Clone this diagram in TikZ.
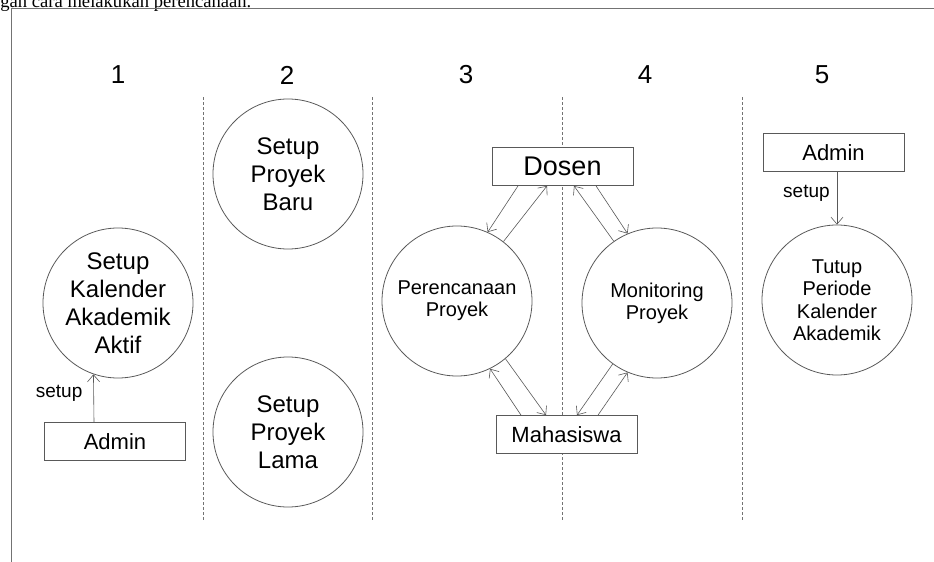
\documentclass[tikz,border=0pt]{standalone}
\usepackage{fontspec}
\setmainfont{Liberation Sans}
\newfontfamily\timesfont{Liberation Serif}
\usetikzlibrary{arrows.meta}

\begin{document}
\begin{tikzpicture}[x=1pt, y=-1pt, line width=0.8pt,
    proses/.style={draw=black!65, circle, minimum size=150pt, inner sep=0pt, align=center, text=black},
    entitas/.style={draw=black!65, fill=white, minimum width=141pt, minimum height=38pt, inner sep=0pt, text=black, font=\fontsize{22}{26}\selectfont},
    alir/.style={draw=black!65, line width=0.6pt, -{Straight Barb[length=7pt,width=12pt]}},
    batas/.style={draw=black!55, line width=0.6pt, dash pattern=on 3pt off 2pt},
    ket/.style={inner sep=1pt, text=black, font=\fontsize{19}{22}\selectfont}]
    \useasboundingbox (0,0) rectangle (934,562);
    \begin{scope}
    \clip (0,0) rectangle (934,562);
    \node[anchor=base west, inner sep=0pt, font=\timesfont\fontsize{18.6}{22}\selectfont] (teks) at (0,7.5) {gan cara melakukan perencanaan.};
    \end{scope}
    \draw[black!55] (934,8) -- (11,8) -- (11,562);

    % garis pemisah kolom
    \foreach \x in {203,372,562,742}
    {
    \draw[batas] (\x,97) -- (\x,520);
    }
    \foreach \x/\n in {118/1,287/2,466/3,645/4,822/5}
    {
    \node[text=black, font=\fontsize{26}{30}\selectfont] (no\n) at (\x,75) {\n};
    }

    % proses
    \node[proses, font=\fontsize{24}{28}\selectfont] (kalender) at (118,303) {Setup\\Kalender\\Akademik\\Aktif};
    \node[proses, font=\fontsize{24}{28}\selectfont] (baru) at (288,174) {Setup\\Proyek\\Baru};
    \node[proses, font=\fontsize{24}{28}\selectfont] (lama) at (288,432) {Setup\\Proyek\\Lama};
    \node[proses, font=\fontsize{20}{22}\selectfont] (perencanaan) at (457,301) {Perencanaan\\Proyek};
    \node[proses, font=\fontsize{20}{22}\selectfont] (monitoring) at (657,303) {Monitoring\\Proyek};
    \node[proses, font=\fontsize{20}{22.5}\selectfont] (tutup) at (837,300) {Tutup\\Periode\\Kalender\\Akademik};

    % entitas
    \node[entitas, font=\fontsize{27}{32}\selectfont] (dosen) at (562.5,166.5) {Dosen};
    \node[entitas] (mahasiswa) at (566.5,434.5) {Mahasiswa};
    \node[entitas] (admina) at (115,441.5) {Admin};
    \node[entitas] (adminb) at (833.5,152.5) {Admin};

    % aliran
    \draw[alir] ([xshift=-21pt]admina.north) -- node[ket, pos=0.6, left=10pt] {setup} (kalender.-109);
    \draw[alir] ([xshift=3.5pt]adminb.south) -- node[ket, pos=0.4, left=6pt] {setup} (tutup.north);

    \draw[alir] ([xshift=-44.5pt]dosen.south) -- (perencanaan.66.5);
    \draw[alir] (perencanaan.52) -- ([xshift=-15.5pt]dosen.south);
    \draw[alir] (monitoring.125) -- ([xshift=11.5pt]dosen.south);
    \draw[alir] ([xshift=33.5pt]dosen.south) -- (monitoring.113);
    \draw[alir] ([xshift=-45.5pt]mahasiswa.north) -- (perencanaan.-64.5);
    \draw[alir] (perencanaan.-50) -- ([xshift=-20.5pt]mahasiswa.north);
    \draw[alir] (monitoring.-126) -- ([xshift=10.5pt]mahasiswa.north);
    \draw[alir] ([xshift=31.5pt]mahasiswa.north) -- (monitoring.-113);
\end{tikzpicture}
\end{document}
